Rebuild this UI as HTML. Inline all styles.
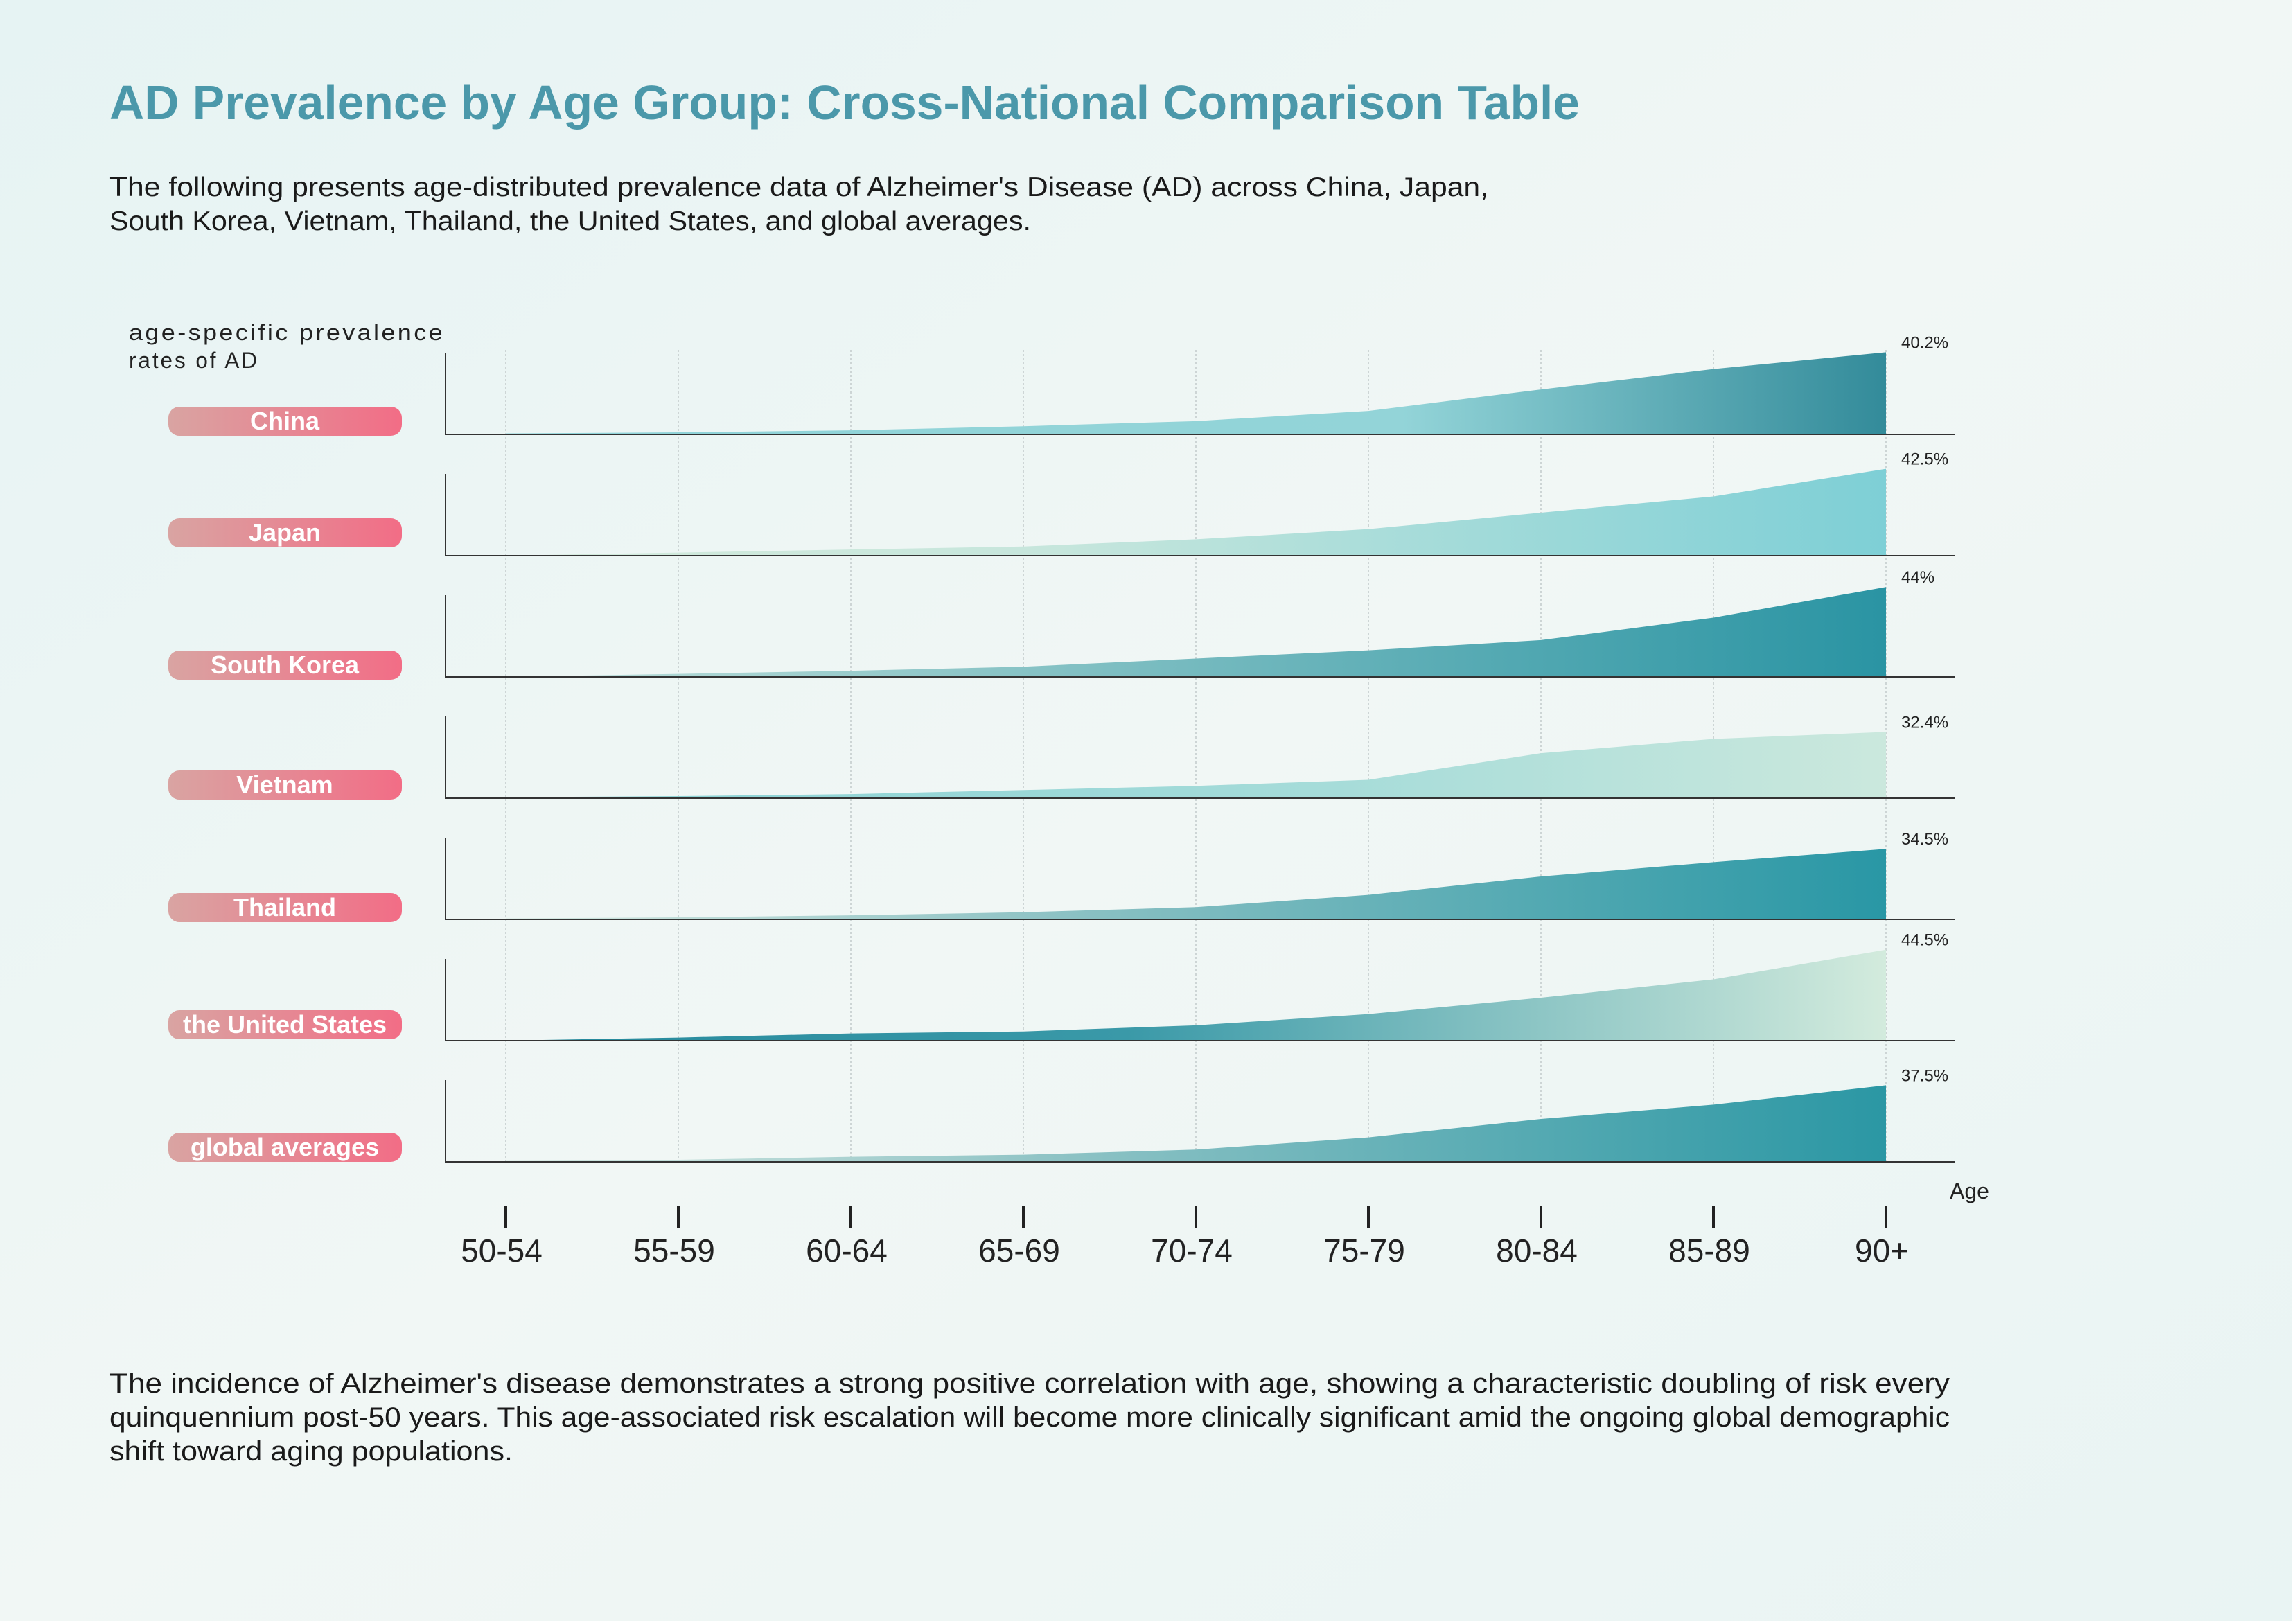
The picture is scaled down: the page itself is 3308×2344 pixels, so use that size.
<!DOCTYPE html>
<html><head><meta charset="utf-8"><style>
html,body{margin:0;padding:0;}
body{width:3308px;height:2339px;overflow:hidden;font-family:"Liberation Sans",sans-serif;}
</style></head><body>
<svg id="chart" width="3308" height="2339" viewBox="0 0 3308 2339" xmlns="http://www.w3.org/2000/svg">
<defs>
<linearGradient id="bg" x1="0" y1="0" x2="1" y2="1"><stop offset="0" stop-color="#e6f3f3"/><stop offset="0.5" stop-color="#f1f7f5"/><stop offset="1" stop-color="#e9f4f3"/></linearGradient>
<linearGradient id="pill" x1="0" x2="1"><stop offset="0" stop-color="#d9a4a2"/><stop offset="1" stop-color="#f26d86"/></linearGradient>
<linearGradient id="g0" x1="0" x2="1"><stop offset="0" stop-color="#8fd3d8"/><stop offset="0.65" stop-color="#93d4d8"/><stop offset="1" stop-color="#338b9a"/></linearGradient>
<linearGradient id="g1" x1="0" x2="1"><stop offset="0" stop-color="#d4ebdc"/><stop offset="0.4" stop-color="#c6e6dc"/><stop offset="1" stop-color="#7ecfd6"/></linearGradient>
<linearGradient id="g2" x1="0" x2="1"><stop offset="0" stop-color="#bfdfda"/><stop offset="1" stop-color="#2a94a3"/></linearGradient>
<linearGradient id="g3" x1="0" x2="1"><stop offset="0" stop-color="#86d0d4"/><stop offset="0.6" stop-color="#a6dcd9"/><stop offset="1" stop-color="#cbe8dd"/></linearGradient>
<linearGradient id="g4" x1="0" x2="1"><stop offset="0" stop-color="#d6e9e2"/><stop offset="0.4" stop-color="#8dc2c4"/><stop offset="1" stop-color="#2997a5"/></linearGradient>
<linearGradient id="g5" x1="0" x2="1"><stop offset="0" stop-color="#25899c"/><stop offset="0.45" stop-color="#3a99a8"/><stop offset="1" stop-color="#d3ebdd"/></linearGradient>
<linearGradient id="g6" x1="0" x2="1"><stop offset="0" stop-color="#d8eae3"/><stop offset="0.4" stop-color="#8ec3c5"/><stop offset="1" stop-color="#2b97a4"/></linearGradient>
</defs>
<rect x="0" y="0" width="3308" height="2339" fill="url(#bg)"/>
<text x="158" y="172" font-size="70" font-weight="bold" fill="#4b98aa" textLength="2122" lengthAdjust="spacingAndGlyphs">AD Prevalence by Age Group: Cross-National Comparison Table</text>
<text x="158" y="283" font-size="39" fill="#1a1a1a" textLength="1990" lengthAdjust="spacingAndGlyphs">The following presents age-distributed prevalence data of Alzheimer's Disease (AD) across China, Japan,</text>
<text x="158" y="332" font-size="39" fill="#1a1a1a" textLength="1330" lengthAdjust="spacingAndGlyphs">South Korea, Vietnam, Thailand, the United States, and global averages.</text>
<text x="186" y="491" font-size="32" fill="#222" letter-spacing="3" textLength="456" lengthAdjust="spacingAndGlyphs">age-specific prevalence</text>
<text x="186" y="531" font-size="32" fill="#222" letter-spacing="3" textLength="188" lengthAdjust="spacingAndGlyphs">rates of AD</text>
<g id="grid"></g>
<g id="rows"></g>
<g id="xaxis"></g>
<text x="2814" y="1730" font-size="32" fill="#222">Age</text>
<text x="158" y="2010" font-size="40" fill="#1a1a1a" textLength="2656" lengthAdjust="spacingAndGlyphs">The incidence of Alzheimer's disease demonstrates a strong positive correlation with age, showing a characteristic doubling of risk every</text>
<text x="158" y="2059" font-size="40" fill="#1a1a1a" textLength="2656" lengthAdjust="spacingAndGlyphs">quinquennium post-50 years. This age-associated risk escalation will become more clinically significant amid the ongoing global demographic</text>
<text x="158" y="2108" font-size="40" fill="#1a1a1a" textLength="582" lengthAdjust="spacingAndGlyphs">shift toward aging populations.</text>
</svg>
<script>
const ageGroups = ["50-54","55-59","60-64","65-69","70-74","75-79","80-84","85-89","90+"];
const countries = ["China","Japan","South Korea","Vietnam","Thailand","the United States","global averages"];
const chinaValues = [0.5,1,2,4,6.5,11.5,22,32,40.2];
const japanValues = [0,1.5,3,4.5,8,13,21,29,42.5];
const koreaValues = [0,1.5,3,5,9,13,18,29,44];
const vietnamValues = [0.5,1,2,4,6,9,22,29,32.4];
const thailandValues = [0.5,1,2,3.5,6,12,21,28,34.5];
const usValues = [0,1.5,3.5,4.5,7.5,13,21,30,44.5];
const globalValues = [0.5,1,2.5,3.5,6,12,21,28,37.5];
const finalLabels = ["40.2%","42.5%","44%","32.4%","34.5%","44.5%","37.5%"];
const seriesList = [chinaValues,japanValues,koreaValues,vietnamValues,thailandValues,usValues,globalValues];

const NS = "http://www.w3.org/2000/svg";
const X0 = 730, XSTEP = 249, AXIS_X = 643, AXIS_END = 2821;
const BASE0 = 627, ROWSTEP = 175, YSCALE = 2.95;
const pillOffsets = [0,-14,2,0,2,-4,-2];
const xPos = i => X0 + XSTEP * i;
const yPos = (row, v) => BASE0 + ROWSTEP * row - v * YSCALE;
function mk(tag, attrs, parent){ const e=document.createElementNS(NS,tag); for(const k in attrs) e.setAttribute(k,attrs[k]); parent.appendChild(e); return e; }

const grid = document.getElementById('grid');
ageGroups.forEach((g,i)=>{
  const l = mk('line',{x1:xPos(i),x2:xPos(i),y1:505,y2:1677,stroke:'#cdd5d5','stroke-width':2,'stroke-dasharray':'3 3'},grid);
  
  
});

const rows = document.getElementById('rows');
seriesList.forEach((vals,r)=>{
  const base = BASE0 + ROWSTEP*r;
  const g = mk('g',{},rows);
  
  
  let d = 'M'+xPos(0)+','+base;
  vals.forEach((v,i)=>{ d += ' L'+xPos(i)+','+yPos(r,v); });
  d += ' L'+xPos(vals.length-1)+','+base+' Z';
  const a = mk('path',{d:d,fill:'url(#g'+r+')'},g);
  
  
  const ax = mk('path',{d:'M'+AXIS_X+','+(base-118)+' L'+AXIS_X+','+base+' L'+AXIS_END+','+base,fill:'none',stroke:'#333','stroke-width':2},g);
  
  
  const lbl = mk('text',{x:xPos(vals.length-1)+22,y:yPos(r,vals[vals.length-1])-6,'font-size':24,fill:'#222'},g);
  lbl.textContent = finalLabels[r];
  
  
  const pb = base + pillOffsets[r];
  const pill = mk('rect',{x:243,y:pb-40,width:337,height:42,rx:16,fill:'url(#pill)'},g);
  
  
  const pt = mk('text',{x:411,y:pb-7,'font-size':36,'font-weight':'bold',fill:'#fff','text-anchor':'middle'},g);
  pt.textContent = countries[r];
  
  
});

const xa = document.getElementById('xaxis');
ageGroups.forEach((g,i)=>{
  const t = mk('line',{x1:xPos(i),x2:xPos(i),y1:1740,y2:1772,stroke:'#222','stroke-width':4},xa);
  
  
  const tx = mk('text',{x:xPos(i)-6,y:1821,'font-size':46,fill:'#222','text-anchor':'middle'},xa);
  tx.textContent = g;
  
  
});
</script>
</body></html>
